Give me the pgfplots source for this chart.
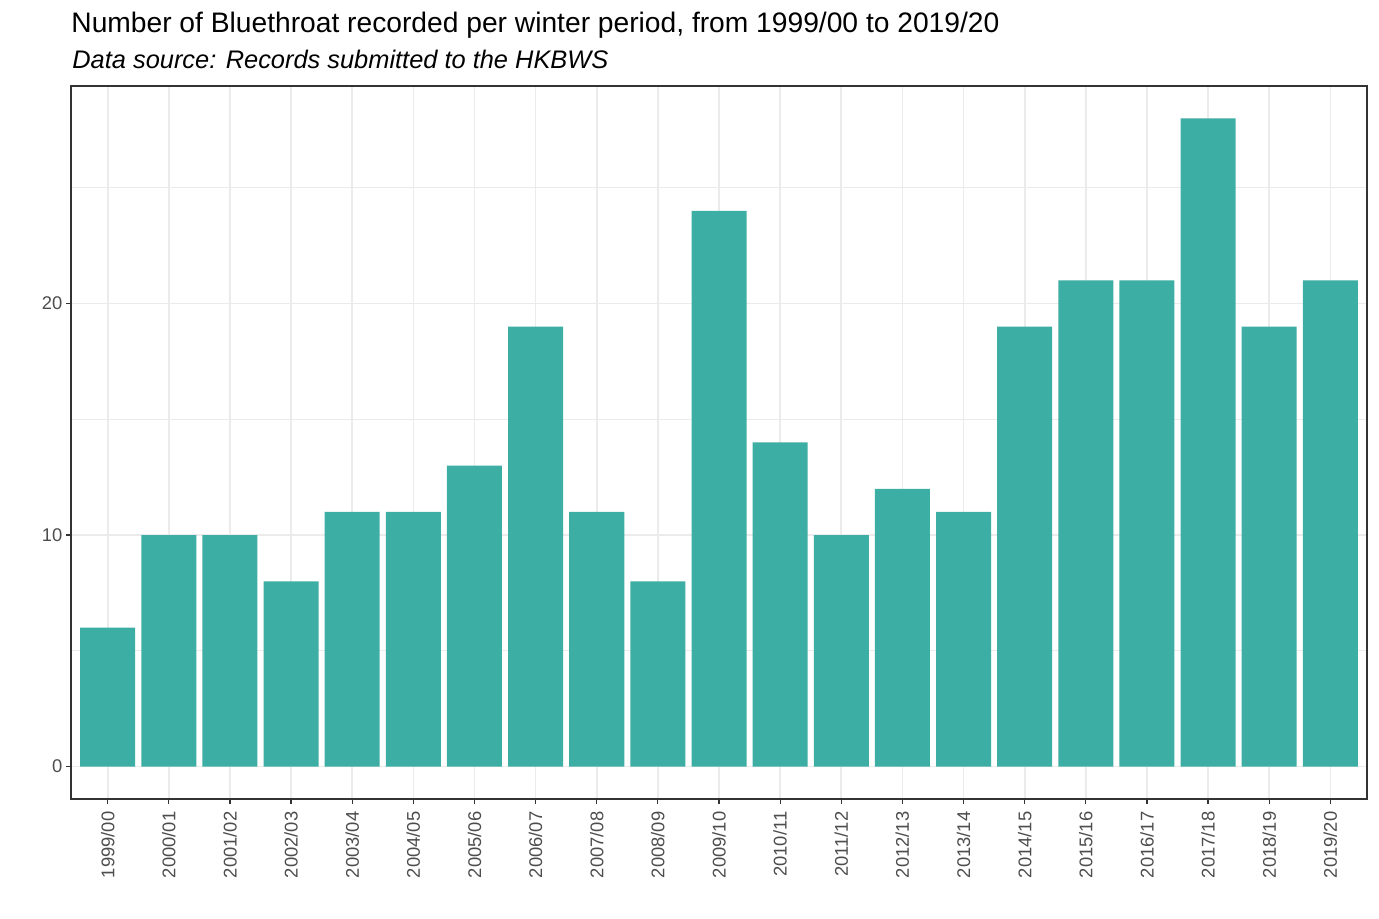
\documentclass[border=0pt]{standalone}
\usepackage{pgfplots}
\pgfplotsset{compat=1.18}
\usepackage{fontspec}
\setmainfont{Liberation Sans}
\definecolor{barcol}{RGB}{61,174,163}
\definecolor{gridcol}{RGB}{235,235,235}
\definecolor{tickcol}{RGB}{77,77,77}
\definecolor{framecol}{RGB}{51,51,51}
\begin{document}
\begin{tikzpicture}[x=1bp,y=1bp]
\path (0,0) rectangle (689.5,459.5);
\begin{axis}[
  at={(35.5bp,60bp)}, anchor=south west,
  scale only axis,
  width=648bp, height=356.5bp,
  xmin=-0.6, xmax=20.6,
  ymin=-1.4, ymax=29.4,
  ybar, bar width=0.9,
  xtick=data,
  xticklabels={1999/00,2000/01,2001/02,2002/03,2003/04,2004/05,2005/06,2006/07,2007/08,2008/09,2009/10,2010/11,2011/12,2012/13,2013/14,2014/15,2015/16,2016/17,2017/18,2018/19,2019/20},
  ytick={0,10,20},
  minor ytick={5,15,25},
  xmajorgrids=true, ymajorgrids=true, yminorgrids=true,
  major grid style={gridcol, line width=0.85bp},
  minor grid style={gridcol, line width=0.5bp},
  tick pos=left, tick align=outside,
  major tick length=2.6bp, minor tick length=0pt,
  tick style={framecol, line width=0.6bp},
  axis line style={framecol, line width=0.6bp},
  /pgf/number format/assume math mode=true,
  ticklabel style={font=\fontsize{9.2bp}{11bp}\selectfont, text=tickcol},
  xticklabel style={rotate=90, anchor=east, inner sep=3.5bp},
  yticklabel style={inner sep=1.5bp},
]
\addplot[fill=barcol, draw=none] coordinates {
(0,6) (1,10) (2,10) (3,8) (4,11) (5,11) (6,13) (7,19) (8,11) (9,8) (10,24)
(11,14) (12,10) (13,12) (14,11) (15,19) (16,21) (17,21) (18,28) (19,19) (20,21)};
\end{axis}
\node[anchor=base west, inner sep=0, font=\fontsize{14.1bp}{16bp}\selectfont] at (35.5,443) {Number of Bluethroat recorded per winter period, from 1999/00 to 2019/20};
\node[anchor=base west, inner sep=0, font=\fontsize{12.7bp}{15bp}\selectfont\itshape] at (36,425) {Data source: Records submitted to the HKBWS};
\end{tikzpicture}
\end{document}
